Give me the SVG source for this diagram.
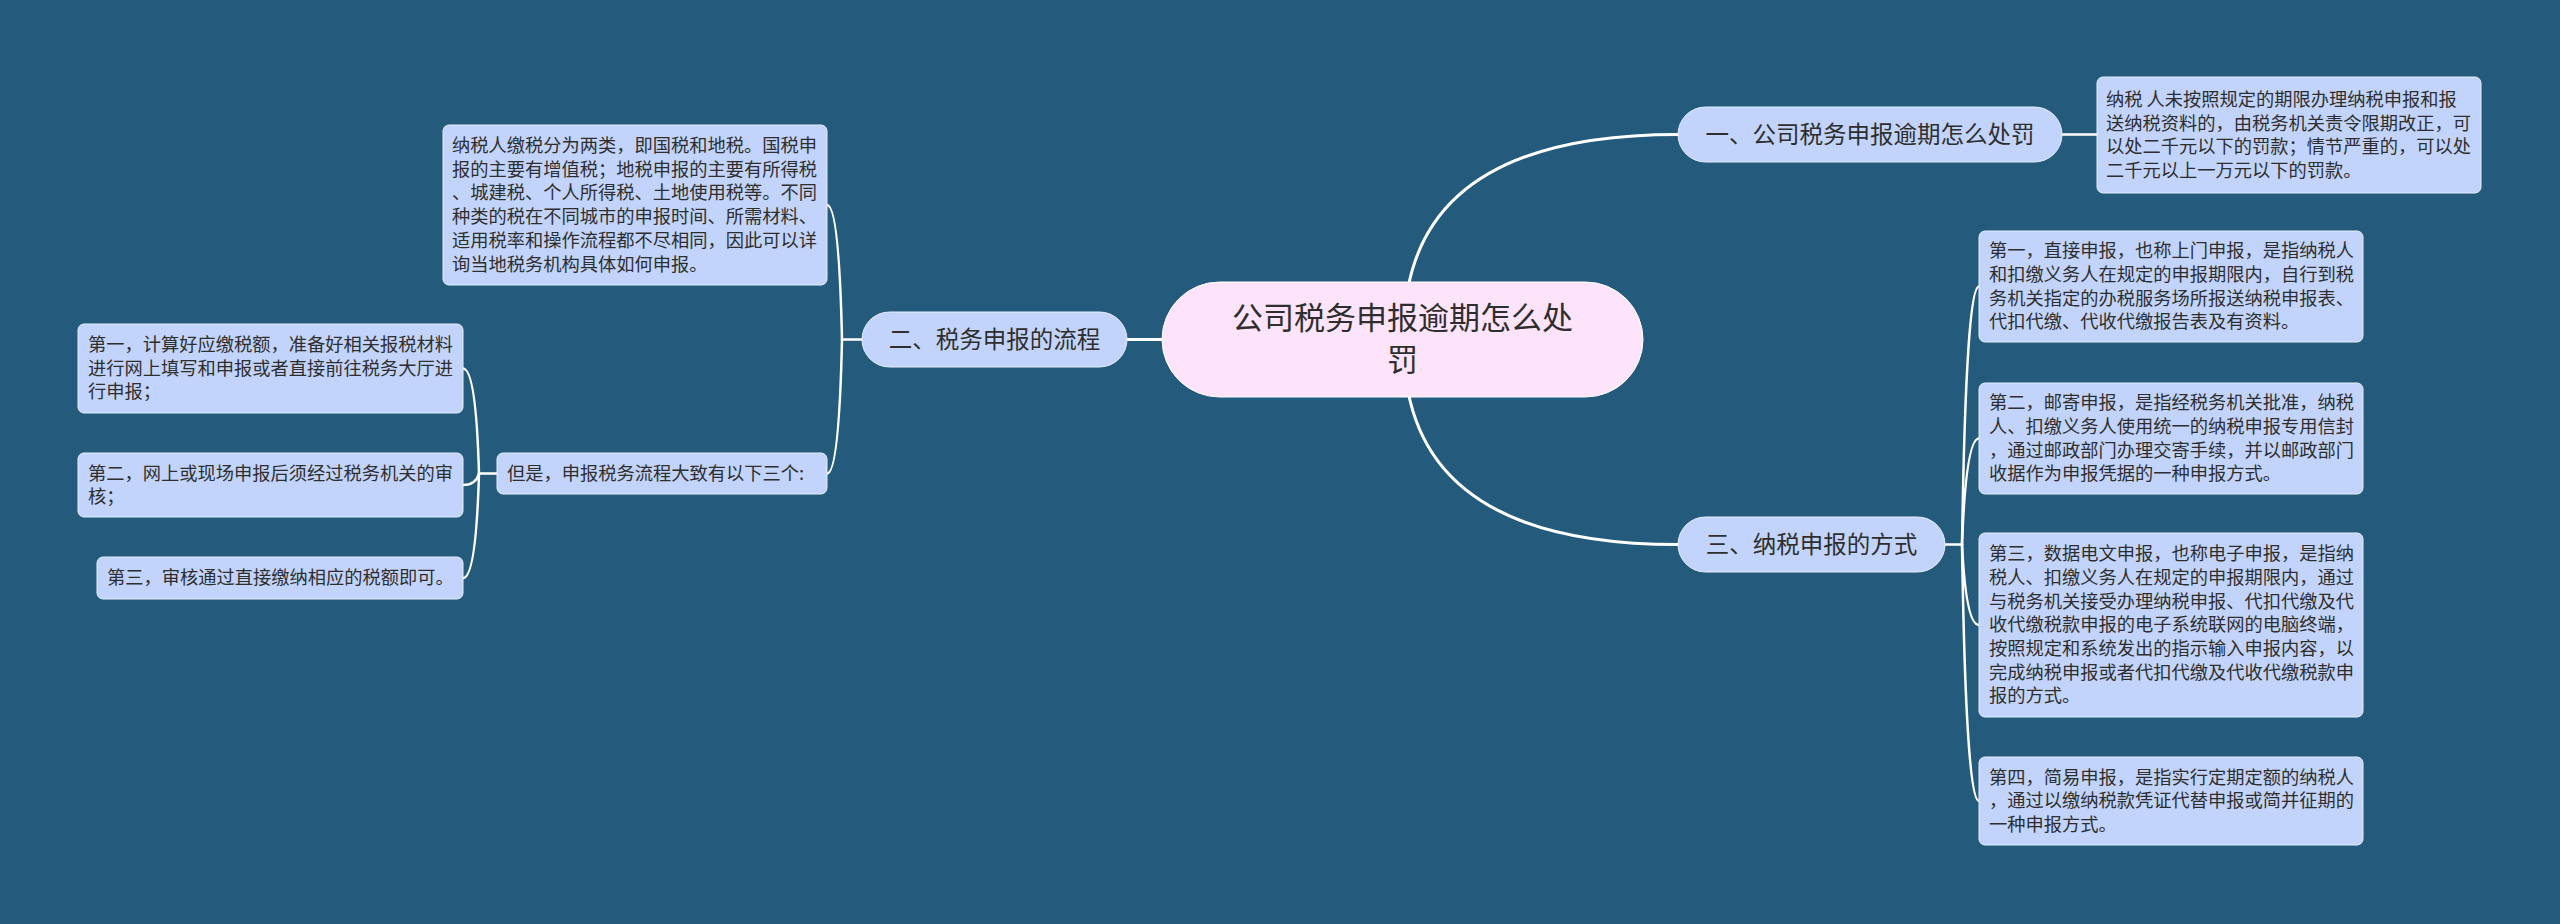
<svg xmlns="http://www.w3.org/2000/svg" width="2560" height="924" viewBox="0 0 2560 924">
<style>
.bg{fill:#245a7c}
.root{fill:#fde4fb;stroke:#ffffff;stroke-width:1}
.branch{fill:#c2d4fb;stroke:#e6eeff;stroke-width:1}
.leaf{fill:#c2d4fb;stroke:#e6eeff;stroke-width:1}
text{font-family:"Noto Sans CJK SC","Noto Sans",sans-serif;fill:#2e2e2e}
.rt{font-size:31px;text-anchor:middle}
.bt{font-size:23.5px;text-anchor:middle}
.lt{font-size:18.25px}
.conn path{fill:none;stroke:#ffffff;stroke-linecap:round}
.main{stroke-width:3}
.sub{stroke-width:2.5}
</style>
<rect class="bg" x="0" y="0" width="2560" height="924"/>
<g id="connectors" class="conn">
<path class="main" d="M1408,288 Q1437,134.5 1678,134.5"/>
<path class="main" d="M1408,391 Q1437,544.5 1678,544.5"/>
<path class="main" d="M1162,339.5 L1127,339.5"/>
<path class="sub" d="M2062,134.5 L2097,134.5"/>
<path class="sub" d="M862,339.5 L842,339.5"/>
<path class="sub" d="M842,339.5 Q839,205 827,205"/>
<path class="sub" d="M842,339.5 Q839,473.5 827,473.5"/>
<path class="sub" d="M497,473.5 L479,473.5"/>
<path class="sub" d="M479,473.5 Q476,368.5 463,368.5"/>
<path class="sub" d="M479,473.5 Q476,485 463,485"/>
<path class="sub" d="M479,473.5 Q476,578 463,578"/>
<path class="sub" d="M1945,544.5 L1962,544.5"/>
<path class="sub" d="M1962,544.5 Q1966,286.5 1979,286.5"/>
<path class="sub" d="M1962,544.5 Q1966,438.5 1979,438.5"/>
<path class="sub" d="M1962,544.5 Q1966,625 1979,625"/>
<path class="sub" d="M1962,544.5 Q1966,801 1979,801"/>
</g>
<g id="root">
<rect class="root" x="1162" y="282" width="481" height="115" rx="57.5"/>
<text class="rt" x="1402.5" y="328.5">公司税务申报逾期怎么处</text>
<text class="rt" x="1402.5" y="371">罚</text>
</g>
<g id="branch1">
<rect class="branch" x="1678" y="107" width="384" height="55" rx="27.5"/>
<text class="bt" x="1870" y="142.7">一、公司税务申报逾期怎么处罚</text>
</g>
<g id="leaf1">
<rect class="leaf" x="2097" y="77" width="384" height="116" rx="6"/>
<text class="lt" x="2106" y="105.8"><tspan x="2106">纳税 人未按照规定的期限办理纳税申报和报</tspan><tspan x="2106" dy="23.7">送纳税资料的，由税务机关责令限期改正，可</tspan><tspan x="2106" dy="23.7">以处二千元以下的罚款；情节严重的，可以处</tspan><tspan x="2106" dy="23.7">二千元以上一万元以下的罚款。</tspan></text>
</g>
<g id="branch2">
<rect class="branch" x="862" y="312" width="265" height="55" rx="27.5"/>
<text class="bt" x="994.5" y="347.7">二、税务申报的流程</text>
</g>
<g id="leaf2a">
<rect class="leaf" x="443" y="125" width="384" height="160" rx="6"/>
<text class="lt" x="452" y="152"><tspan x="452">纳税人缴税分为两类，即国税和地税。国税申</tspan><tspan x="452" dy="23.7">报的主要有增值税；地税申报的主要有所得税</tspan><tspan x="452" dy="23.7">、城建税、个人所得税、土地使用税等。不同</tspan><tspan x="452" dy="23.7">种类的税在不同城市的申报时间、所需材料、</tspan><tspan x="452" dy="23.7">适用税率和操作流程都不尽相同，因此可以详</tspan><tspan x="452" dy="23.7">询当地税务机构具体如何申报。</tspan></text>
</g>
<g id="leaf2b">
<rect class="leaf" x="497" y="453" width="330" height="41" rx="6"/>
<text class="lt" x="507" y="479.8">但是，申报税务流程大致有以下三个:</text>
</g>
<g id="step1">
<rect class="leaf" x="78" y="324" width="385" height="89" rx="6"/>
<text class="lt" x="88" y="351"><tspan x="88">第一，计算好应缴税额，准备好相关报税材料</tspan><tspan x="88" dy="23.7">进行网上填写和申报或者直接前往税务大厅进</tspan><tspan x="88" dy="23.7">行申报；</tspan></text>
</g>
<g id="step2">
<rect class="leaf" x="78" y="453" width="385" height="64" rx="6"/>
<text class="lt" x="88" y="479.5"><tspan x="88">第二，网上或现场申报后须经过税务机关的审</tspan><tspan x="88" dy="23.7">核；</tspan></text>
</g>
<g id="step3">
<rect class="leaf" x="97" y="557" width="366" height="42" rx="6"/>
<text class="lt" x="107" y="584.3">第三，审核通过直接缴纳相应的税额即可。</text>
</g>
<g id="branch3">
<rect class="branch" x="1678" y="517" width="267" height="55" rx="27.5"/>
<text class="bt" x="1811.5" y="552.7">三、纳税申报的方式</text>
</g>
<g id="way1">
<rect class="leaf" x="1979" y="231" width="384" height="111" rx="6"/>
<text class="lt" x="1989" y="257.3"><tspan x="1989">第一，直接申报，也称上门申报，是指纳税人</tspan><tspan x="1989" dy="23.7">和扣缴义务人在规定的申报期限内，自行到税</tspan><tspan x="1989" dy="23.7">务机关指定的办税服务场所报送纳税申报表、</tspan><tspan x="1989" dy="23.7">代扣代缴、代收代缴报告表及有资料。</tspan></text>
</g>
<g id="way2">
<rect class="leaf" x="1979" y="383" width="384" height="111" rx="6"/>
<text class="lt" x="1989" y="409.3"><tspan x="1989">第二，邮寄申报，是指经税务机关批准，纳税</tspan><tspan x="1989" dy="23.7">人、扣缴义务人使用统一的纳税申报专用信封</tspan><tspan x="1989" dy="23.7">，通过邮政部门办理交寄手续，并以邮政部门</tspan><tspan x="1989" dy="23.7">收据作为申报凭据的一种申报方式。</tspan></text>
</g>
<g id="way3">
<rect class="leaf" x="1979" y="533" width="384" height="184" rx="6"/>
<text class="lt" x="1989" y="560.2"><tspan x="1989">第三，数据电文申报，也称电子申报，是指纳</tspan><tspan x="1989" dy="23.7">税人、扣缴义务人在规定的申报期限内，通过</tspan><tspan x="1989" dy="23.7">与税务机关接受办理纳税申报、代扣代缴及代</tspan><tspan x="1989" dy="23.7">收代缴税款申报的电子系统联网的电脑终端，</tspan><tspan x="1989" dy="23.7">按照规定和系统发出的指示输入申报内容，以</tspan><tspan x="1989" dy="23.7">完成纳税申报或者代扣代缴及代收代缴税款申</tspan><tspan x="1989" dy="23.7">报的方式。</tspan></text>
</g>
<g id="way4">
<rect class="leaf" x="1979" y="757" width="384" height="88" rx="6"/>
<text class="lt" x="1989" y="783.6"><tspan x="1989">第四，简易申报，是指实行定期定额的纳税人</tspan><tspan x="1989" dy="23.7">，通过以缴纳税款凭证代替申报或简并征期的</tspan><tspan x="1989" dy="23.7">一种申报方式。</tspan></text>
</g>
</svg>
